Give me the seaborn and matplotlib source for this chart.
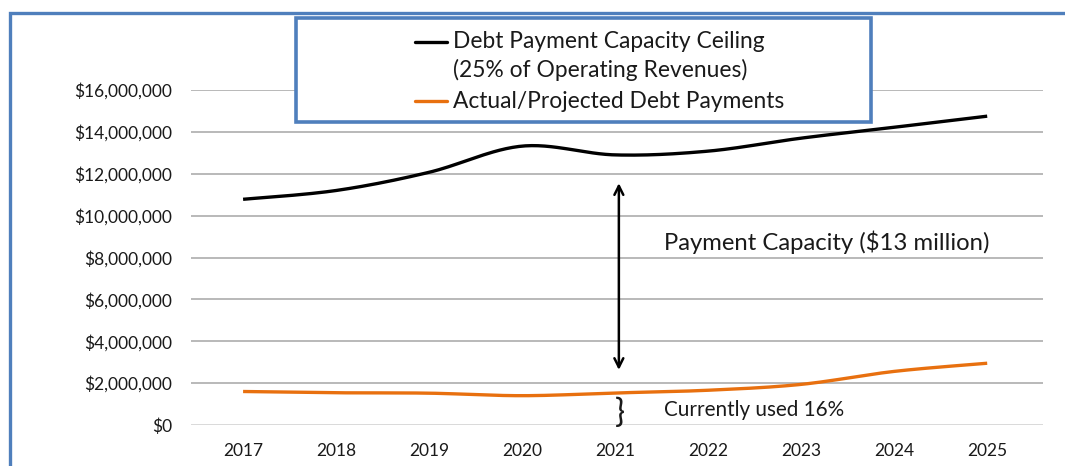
import numpy as np
import pandas as pd
import matplotlib
matplotlib.use("Agg")
import matplotlib.pyplot as plt
from matplotlib.patches import Rectangle
from matplotlib.lines import Line2D
from matplotlib.ticker import FuncFormatter
import seaborn as sns

# ---- data -------------------------------------------------------------
years = ["2017", "2018", "2019", "2020", "2021", "2022", "2023", "2024", "2025"]
ceiling = [10.78e6, 11.2e6, 12.07e6, 13.32e6, 12.9e6, 13.08e6, 13.7e6, 14.22e6, 14.75e6]
payments = [1.60e6, 1.54e6, 1.52e6, 1.40e6, 1.53e6, 1.66e6, 1.94e6, 2.56e6, 2.95e6]
ceiling_label = "Debt Payment Capacity Ceiling"
ceiling_note = "(25% of Operating Revenues)"
payments_label = "Actual/Projected Debt Payments"
y_ticks = [0, 2e6, 4e6, 6e6, 8e6, 10e6, 12e6, 14e6, 16e6]

BLACK = "#000000"
ORANGE = "#E8700F"
BLUE = "#4F7FBC"
GRID = "#A6A6A6"
TEXT = "#1A1A1A"

sns.set_theme(style="white")
plt.rcParams["font.family"] = ["Lato", "DejaVu Sans"]


def smooth(values, n=30):
    """Excel-style smoothed line: cubic Bezier segments through each point."""
    y = np.asarray(values, dtype=float)
    x = np.arange(len(y), dtype=float)
    pts = np.column_stack([x, y])
    ext = np.vstack([pts[0], pts, pts[-1]])
    xs, ys = [], []
    t = np.linspace(0, 1, n)[:, None]
    for i in range(len(pts) - 1):
        p0, p3 = ext[i + 1], ext[i + 2]
        c1 = p0 + (ext[i + 2] - ext[i]) / 6.0
        c2 = p3 - (ext[i + 3] - ext[i + 1]) / 6.0
        seg = ((1 - t) ** 3) * p0 + 3 * ((1 - t) ** 2) * t * c1 + 3 * (1 - t) * t ** 2 * c2 + t ** 3 * p3
        if i > 0:
            seg = seg[1:]
        xs.append(seg[:, 0])
        ys.append(seg[:, 1])
    return np.concatenate(xs), np.concatenate(ys)


W, H = 1065, 466
fig = plt.figure(figsize=(W / 100, H / 100), dpi=100)
ax = fig.add_axes([191 / W, 1 - 425 / H, (1043 - 191) / W, (425 - 90) / H])

# gridlines
for v in y_ticks:
    ax.axhline(v, color=GRID if v > 0 else "#D0D0D0", lw=1.1, zorder=0)

for vals, color in [(ceiling, BLACK), (payments, ORANGE)]:
    sx, sy = smooth(vals)
    df = pd.DataFrame({"x": sx, "y": sy})
    sns.lineplot(data=df, x="x", y="y", sort=False, color=color, lw=2.4, ax=ax,
                 solid_capstyle="butt", zorder=3)

ax.set_xlim(-0.56, 8.6)
ax.set_ylim(0, 16e6)
ax.set_xticks(range(len(years)))
ax.set_xticklabels(years)
ax.set_yticks(y_ticks)
ax.yaxis.set_major_formatter(FuncFormatter(lambda v, p: f"${v:,.0f}"))
ax.tick_params(axis="both", length=0, labelsize=12.5, colors=TEXT)
ax.tick_params(axis="y", pad=13.5)
ax.tick_params(axis="x", pad=13)
ax.set_xlabel("")
ax.set_ylabel("")
for s in ax.spines.values():
    s.set_visible(False)

# capacity arrow and notes
ax.annotate("", xy=(4.04, 11.55e6), xytext=(4.04, 2.63e6),
            arrowprops=dict(arrowstyle="<->", color=BLACK, lw=1.8,
                            mutation_scale=16, shrinkA=0, shrinkB=0))
ax.text(4.52, 8.73e6, "Payment Capacity ($13 million)", fontsize=17.2,
        color=TEXT, va="center", ha="left")
ax.text(4.05, 0.6e6, "}", fontsize=24, color=TEXT, va="center", ha="center")
ax.text(4.52, 0.72e6, "Currently used 16%", fontsize=14.9,
        color=TEXT, va="center", ha="left")

# outer chart frame
fig.patches.append(Rectangle((9.5 / W, -0.1), 1.2, 1 - 13 / H + 0.1,
                             transform=fig.transFigure, fill=False,
                             edgecolor=BLUE, lw=2.4, zorder=10))

# legend box
fig.patches.append(Rectangle((296 / W, 1 - 122 / H), (871 - 296) / W, (122 - 18) / H,
                             transform=fig.transFigure, facecolor="white",
                             edgecolor=BLUE, lw=2.6, zorder=10))
for ypx, color in [(42, BLACK), (101, ORANGE)]:
    fig.add_artist(Line2D([415 / W, 447 / W], [1 - ypx / H] * 2, color=color,
                          lw=2.4, transform=fig.transFigure, zorder=11))
for ypx, txt in [(42, ceiling_label), (70, ceiling_note), (101, payments_label)]:
    fig.text(453 / W, 1 - ypx / H, txt, fontsize=16.4, color=TEXT,
             va="center", ha="left", zorder=12)

fig.savefig("out.png", dpi=100)
